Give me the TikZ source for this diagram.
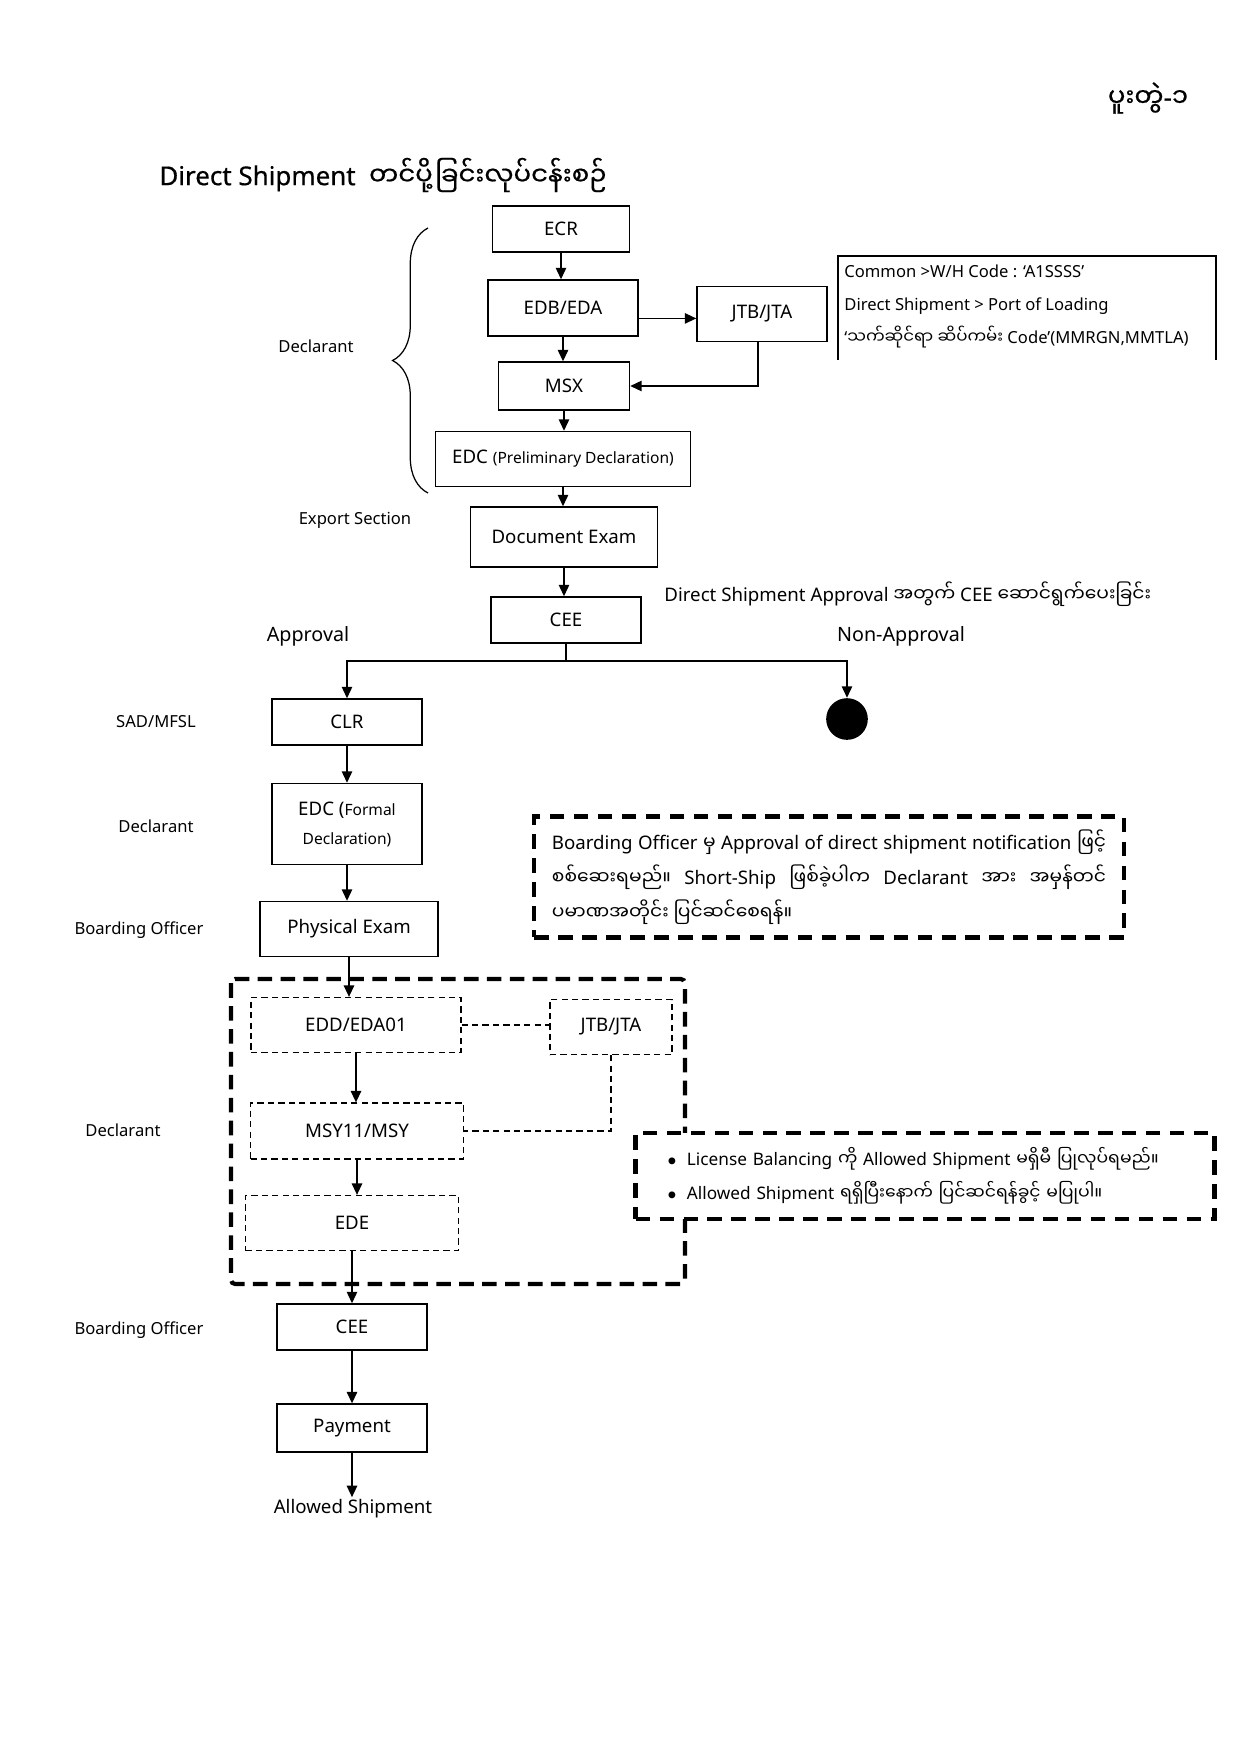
\documentclass[tikz,border=0pt]{standalone}
\usepackage{fontspec}
\setmainfont{Noto Sans}
\newfontfamily\mmfont[Script=Myanmar]{Noto Sans Myanmar UI}
\newfontfamily\titlefont[FakeBold=0.5]{Noto Sans}
\newfontfamily\mmtitlefont[Script=Myanmar, FakeBold=0.5]{Noto Sans Myanmar UI}
\newcommand{\mm}[1]{{\mmfont #1}}
\newcommand{\mmtitle}[1]{{\mmtitlefont #1}}
\usetikzlibrary{arrows.meta,positioning,decorations.pathreplacing}

\begin{document}
\begin{tikzpicture}[
  x=0.48bp, y=-0.48bp,
  flowstep/.style={draw, line width=0.7pt, inner sep=0pt, align=center, fill=white, font=\fontsize{9}{11}\selectfont},
  dashstep/.style={flowstep, dash pattern=on 3bp off 2bp, line width=0.6pt},
  rolelabel/.style={font=\fontsize{8}{10}\selectfont},
  arrow/.style={-{Triangle[length=5.5bp, width=5bp]}, line width=0.7pt},
  dasharrow/.style={dash pattern=on 3bp off 2bp, line width=0.6pt},
  groupline/.style={line width=2bp, dash pattern=on 7bp off 4bp, rounded corners=2bp},
  notebox/.style={draw, fill=white, line width=2.2bp, dash pattern=on 7bp off 4.5bp}
]
\useasboundingbox (0,0) rectangle (1240,1755);

% heading
\node[font=\fontsize{12.5}{15}\selectfont] (annex) at (1148,98) {\mmtitle{ပူးတွဲ}{\titlefont -}\mmtitle{၁}};
\node[anchor=west, inner sep=0pt, font=\fontsize{12.5}{15}\selectfont] (title) at (159,175) {\titlefont Direct Shipment\ \ \mmtitle{တင်ပို့ခြင်းလုပ်ငန်းစဉ်}};

% declarant part
\node[flowstep, minimum width=65.8bp, minimum height=22.1bp] (ecr) at (561,229) {ECR};
\node[flowstep, minimum width=72bp, minimum height=26.9bp] (edb) at (563,308) {EDB/EDA};
\node[flowstep, minimum width=62.4bp, minimum height=26.4bp] (jtb) at (762,314) {JTB/JTA};
\node[flowstep, minimum width=62.9bp, minimum height=23bp] (msx) at (564,386) {MSX};
\node[flowstep, minimum width=122.4bp, minimum height=26.4bp] (edcpre) at (563,459) {EDC {\fontsize{7.5}{9}\selectfont(Preliminary Declaration)}};
\node[flowstep, minimum width=89.8bp, minimum height=28.8bp] (docexam) at (564,537) {Document Exam};
\node[flowstep, minimum width=72bp, minimum height=22.1bp] (cee) at (566,620) {CEE};

\draw[line width=0.6pt] (838,360) -- (838,256) -- (1216,256) -- (1216,360);
\node[anchor=north west, align=left, inner sep=0pt, font=\fontsize{8}{16.1}\selectfont] (whnote) at (844,264) {Common >W/H Code : `A1SSSS'\\ Direct Shipment > Port of Loading\\ `\mm{သက်ဆိုင်ရာ ဆိပ်ကမ်း} Code'(MMRGN,MMTLA)};

\draw[decorate, decoration={brace, amplitude=17bp}, line width=0.6pt] (428,493) -- (428,228);
\node[rolelabel] (declarant) at (316,346) {Declarant};
\node[rolelabel] (export) at (355,520) {Export Section};

\node[anchor=west, inner sep=0pt, font=\fontsize{9}{11}\selectfont] (approvalnote) at (664,594) {Direct Shipment Approval \mm{အတွက်} CEE \mm{ဆောင်ရွက်ပေးခြင်း}};
\node[font=\fontsize{9.5}{11}\selectfont] (yes) at (308,636) {Approval};
\node[font=\fontsize{9.5}{11}\selectfont] (no) at (901,636) {Non-Approval};

% approval branch
\node[flowstep, minimum width=72bp, minimum height=22.1bp] (clr) at (347,722) {CLR};
\node[circle, fill=black, inner sep=0pt, minimum size=20bp] (halt) at (847,719) {};
\node[flowstep, minimum width=72bp, minimum height=38.9bp] (edcfor) at (347,824) {EDC ({\fontsize{7.5}{9}\selectfont Formal}\\[3bp]{\fontsize{7.5}{9}\selectfont Declaration)}};
\node[flowstep, minimum width=85.4bp, minimum height=26.4bp] (physexam) at (349,929) {Physical Exam};

\node[rolelabel] (sad) at (156,722) {SAD/MFSL};
\node[rolelabel] (declarant2) at (156,826) {Declarant};
\node[rolelabel] (boarding) at (139,930) {Boarding Officer};

\node[notebox, text width=266bp, align=justify, minimum height=58bp, inner xsep=8.5bp, font=\fontsize{9}{17}\selectfont] (shortship) at (829,877) {Boarding Officer \mm{မှ} Approval of direct shipment notification \mm{ဖြင့်}\linebreak \mm{စစ်ဆေးရမည်။} Short-Ship \mm{ဖြစ်ခဲ့ပါက} Declarant \mm{အား အမှန်တင်}\linebreak \mm{ပမာဏအတိုင်း ပြင်ဆင်စေရန်။}};

% amendment group
\draw[groupline] (231,979) rectangle (685,1284);
\node[dashstep, minimum width=100.8bp, minimum height=26.4bp] (edd) at (356,1025) {EDD/EDA01};
\node[dashstep, minimum width=58.6bp, minimum height=26.4bp] (jtbdash) at (611,1027) {JTB/JTA};
\node[dashstep, minimum width=102.2bp, minimum height=26.9bp] (msy) at (357,1131) {MSY11/MSY};
\node[dashstep, minimum width=102.2bp, minimum height=26.4bp] (ede) at (352,1223) {EDE};
\node[rolelabel] (declarant3) at (123,1130) {Declarant};

\node[notebox, text width=247bp, align=left, minimum height=41.3bp, inner xsep=15.4bp, font=\fontsize{8.3}{16.3}\selectfont] (balance) at (925,1176) {$\bullet$\hspace{5bp}License Balancing \mm{ကို} Allowed Shipment \mm{မရှိမီ ပြုလုပ်ရမည်။}\\ $\bullet$\hspace{5bp}Allowed Shipment \mm{ရရှိပြီးနောက် ပြင်ဆင်ရန်ခွင့် မပြုပါ။}};

% closing
\node[flowstep, minimum width=72bp, minimum height=22.1bp] (ceeout) at (352,1327) {CEE};
\node[flowstep, minimum width=72bp, minimum height=23bp] (payment) at (352,1428) {Payment};
\node[inner sep=1bp, font=\fontsize{9}{11}\selectfont] (allowed) at (353,1509) {Allowed Shipment};
\node[rolelabel] (boarding2) at (139,1330) {Boarding Officer};

% connectors
\draw[arrow] (ecr.south) -- (ecr.south |- edb.north);
\draw[arrow] (edb.south) -- (edb.south |- msx.north);
\draw[arrow] ([yshift=-5bp]edb.east) -- ([yshift=-5bp]edb.east -| jtb.west);
\draw[arrow] ([xshift=-2bp]jtb.south) |- (msx.east);
\draw[arrow] (msx.south) -- (msx.south |- edcpre.north);
\draw[arrow] (edcpre.south) -- (edcpre.south |- docexam.north);
\draw[arrow] (docexam.south) -- (docexam.south |- cee.north);
\coordinate (fork) at (566,661);
\draw[line width=0.7pt] (cee.south) -- (fork);
\draw[arrow] (fork) -| (clr.north);
\draw[arrow] (fork) -| (halt.north);
\draw[arrow] (clr.south) -- (clr.south |- edcfor.north);
\draw[arrow] (edcfor.south) -- (edcfor.south |- physexam.north);
\draw[arrow] (physexam.south) -- (physexam.south |- edd.north);
\draw[dasharrow] (edd.east) -- (edd.east -| jtbdash.west);
\draw[dasharrow] (jtbdash.south) |- (msy.east);
\draw[arrow] (edd.south) -- (edd.south |- msy.north);
\draw[arrow] (msy.south) -- (msy.south |- ede.north);
\draw[arrow] (ede.south) -- (ede.south |- ceeout.north);
\draw[arrow] (ceeout.south) -- (ceeout.south |- payment.north);
\draw[arrow] (payment.south) -- (payment.south |- allowed.north);
\end{tikzpicture}
\end{document}
